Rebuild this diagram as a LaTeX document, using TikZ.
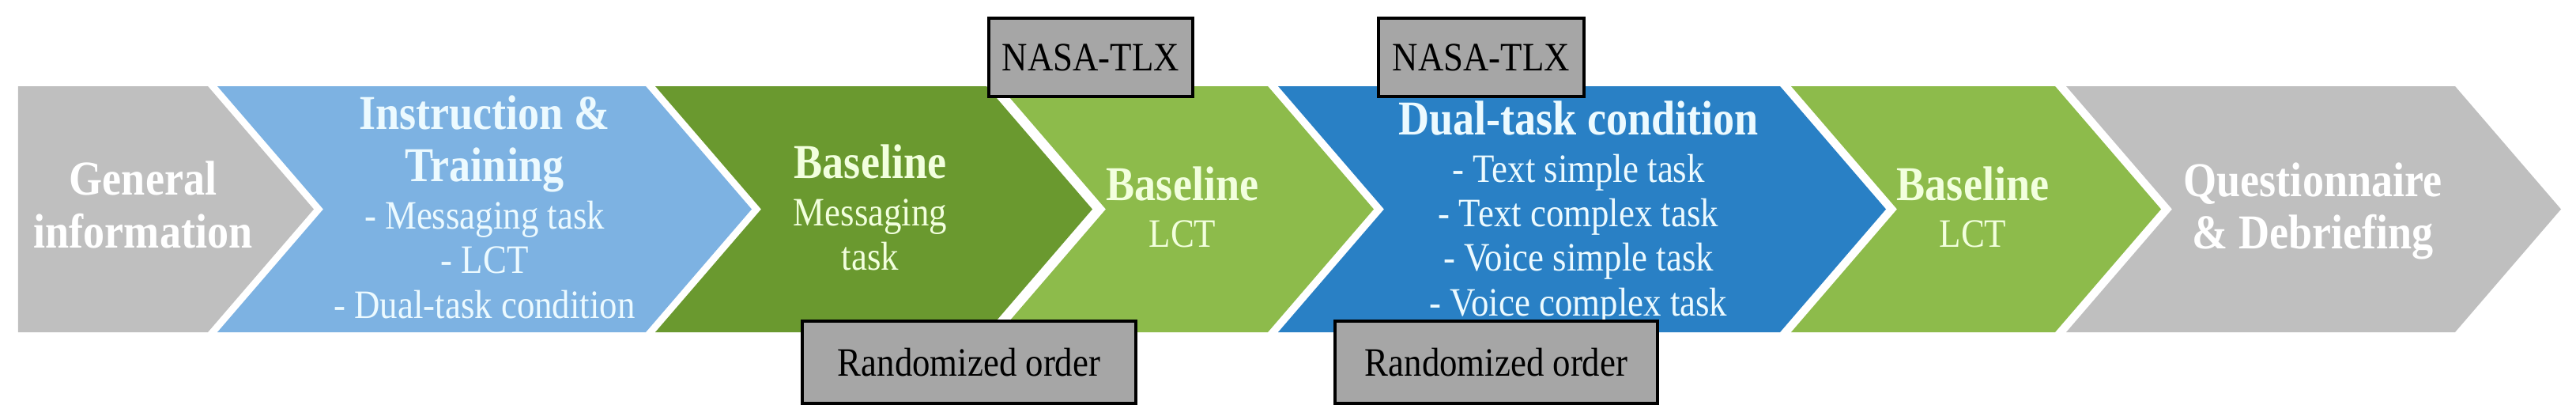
\documentclass[tikz,border=0pt]{standalone}
\usepackage{fontspec}
\setmainfont{Liberation Serif}[FakeStretch=0.88]
\definecolor{stagegray}{RGB}{191,191,191}
\definecolor{stagelblue}{RGB}{125,178,226}
\definecolor{stagedgreen}{RGB}{106,153,47}
\definecolor{stagelgreen}{RGB}{141,187,75}
\definecolor{stagedblue}{RGB}{41,128,197}
\definecolor{boxgray}{RGB}{166,166,166}
\definecolor{paleyellow}{RGB}{242,255,222}
\definecolor{palecyan}{RGB}{236,250,255}
\newcommand{\headfont}{\fontsize{17.5}{19}\selectfont\bfseries}
\newcommand{\itemfont}{\fontsize{14.5}{16}\selectfont}
\begin{document}
\begin{tikzpicture}[x=1cm,y=1cm,
  stage/.style={align=center,font=\itemfont,inner sep=0pt},
  note/.style={draw=black,line width=0.9pt,fill=boxgray,font=\itemfont,inner sep=0pt,minimum height=0.99cm}]
\useasboundingbox (0,0) rectangle (32.59,5.30);
% chevrons
\fill[stagegray] (0.23,1.10) -- (2.63,1.10) -- (3.97,2.655) -- (2.63,4.21) -- (0.23,4.21) -- cycle;
\fill[stagelblue] (2.75,1.10) -- (8.17,1.10) -- (9.51,2.655) -- (8.17,4.21) -- (2.75,4.21) -- (4.09,2.655) -- cycle;
\fill[stagedgreen] (8.29,1.10) -- (12.48,1.10) -- (13.82,2.655) -- (12.48,4.21) -- (8.29,4.21) -- (9.63,2.655) -- cycle;
\fill[stagelgreen] (12.65,1.10) -- (16.04,1.10) -- (17.38,2.655) -- (16.04,4.21) -- (12.65,4.21) -- (13.99,2.655) -- cycle;
\fill[stagedblue] (16.17,1.10) -- (22.52,1.10) -- (23.86,2.655) -- (22.52,4.21) -- (16.17,4.21) -- (17.51,2.655) -- cycle;
\fill[stagelgreen] (22.66,1.10) -- (26.00,1.10) -- (27.34,2.655) -- (26.00,4.21) -- (22.66,4.21) -- (24.00,2.655) -- cycle;
\fill[stagegray] (26.14,1.10) -- (31.06,1.10) -- (32.40,2.655) -- (31.06,4.21) -- (26.14,4.21) -- (27.48,2.655) -- cycle;
% stage texts
\node[stage,text=white] (general) at (1.81,2.71) {{\headfont General}\\[3pt]{\headfont information}};
\node[stage,text=palecyan] (training) at (6.13,2.685) {{\headfont Instruction \&}\\[3pt]{\headfont Training}\\[1pt]- Messaging task\\- LCT\\- Dual-task condition};
\node[stage,text=paleyellow] (basemsg) at (11.01,2.675) {{\headfont Baseline}\\[0.8pt]Messaging\\task};
\node[stage,text=paleyellow] (baselct) at (14.96,2.68) {{\headfont Baseline}\\[0.8pt]LCT};
\node[stage,text=palecyan] (dualtask) at (19.97,2.61) {{\headfont Dual-task condition}\\[1pt]- Text simple task\\- Text complex task\\- Voice simple task\\- Voice complex task};
\node[stage,text=paleyellow] (baselct2) at (24.96,2.68) {{\headfont Baseline}\\[0.8pt]LCT};
\node[stage,text=white] (debrief) at (29.26,2.63) {{\headfont Questionnaire}\\[3pt]{\headfont \& Debriefing}};
% grey boxes
\node[note,minimum width=2.58cm] (tlx1) at (13.80,4.575) {NASA-TLX};
\node[note,minimum width=2.60cm] (tlx2) at (18.74,4.575) {NASA-TLX};
\node[note,minimum width=4.22cm,minimum height=1.04cm] (order1) at (12.26,0.72) {Randomized order};
\node[note,minimum width=4.08cm,minimum height=1.04cm] (order2) at (18.93,0.72) {Randomized order};
\end{tikzpicture}
\end{document}
